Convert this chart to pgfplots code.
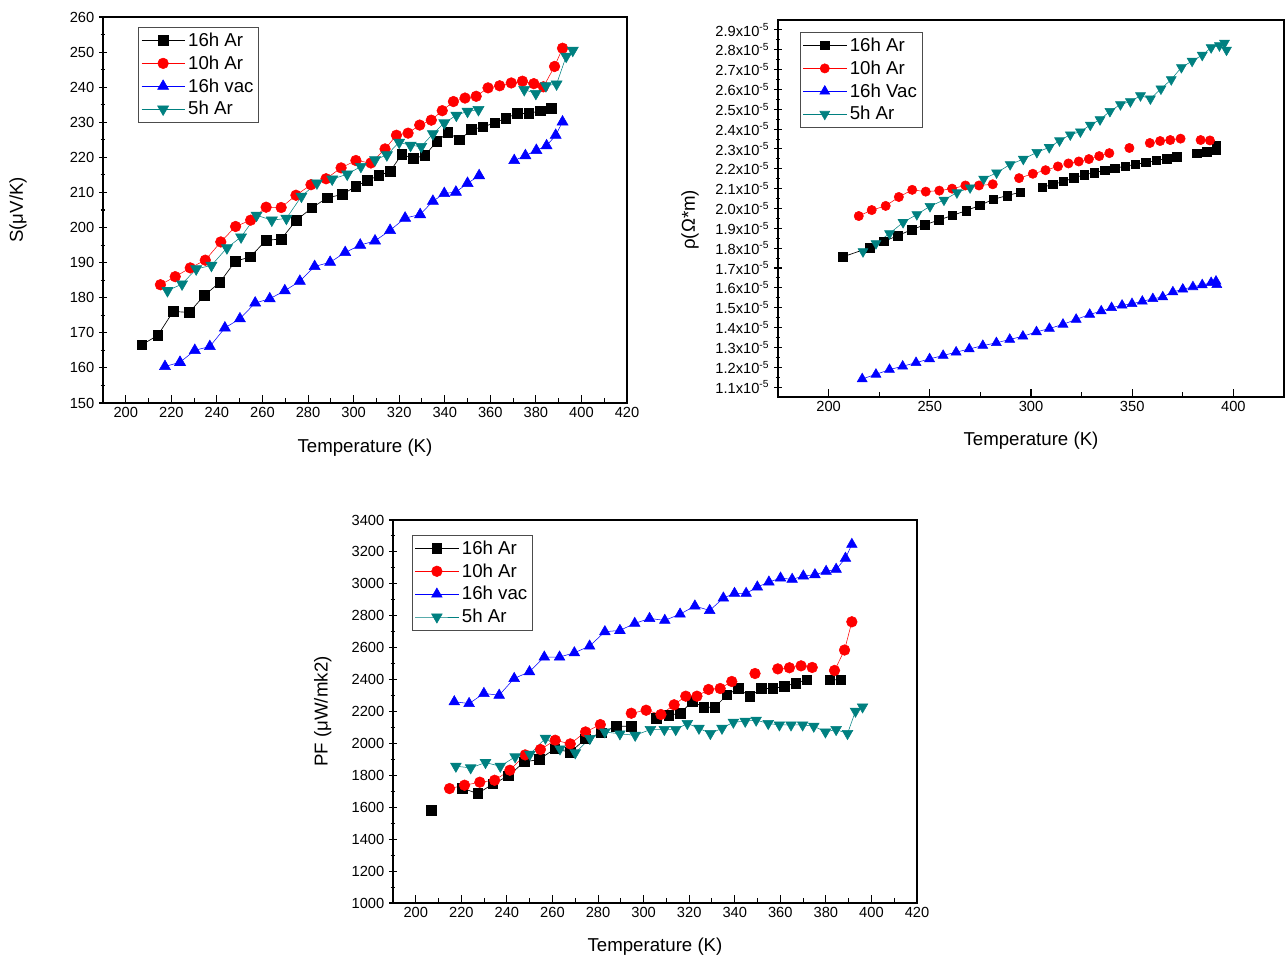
\documentclass[border=0pt]{standalone}
\usepackage{fontspec}
\setmainfont{Liberation Sans}
\usepackage{pgfplots}
\pgfplotsset{compat=1.18}
\definecolor{tealc}{RGB}{0,128,128}

\pgfplotsset{
  myax/.style={
    scale only axis,
    axis line style={line width=0.9pt},
    tick style={line width=0.8pt, black},
    xtick pos=bottom, ytick pos=left,
    xtick align=inside, ytick align=center,
    major tick length=6pt, minor tick length=3.5pt,
    minor x tick num=1, minor y tick num=1,
    tick label style={font=\fontsize{11}{13}\selectfont},
    label style={font=\fontsize{14}{16}\selectfont},
    /pgf/number format/assume math mode=true,
    /pgf/number format/1000 sep={},
    legend style={font=\fontsize{14}{16}\selectfont, draw=black!70, line width=0.6pt, inner sep=2pt, row sep=1.5pt, cells={anchor=west}, legend cell align=left},
    legend image code/.code={\draw[mark repeat=2,mark phase=2,#1] plot coordinates {(0cm,0cm) (0.57cm,0cm) (1.15cm,0cm)};},
    unbounded coords=jump,
  },
  sA/.style={black, line width=0.5pt, mark=square*, mark options={solid, fill=black, draw=black}},
  sB/.style={red, line width=0.4pt, mark=*, mark options={solid, fill=red, draw=red}},
  sC/.style={blue, line width=0.4pt, mark=triangle*, mark options={solid, fill=blue, draw=blue}},
  sD/.style={tealc, line width=0.4pt, mark=triangle*, mark options={solid, fill=tealc, draw=tealc, rotate=180}},
}

\begin{document}
\begin{tikzpicture}
\path[use as bounding box] (0,0) rectangle (964.5pt,720pt);

% ---------------- Panel 1: Seebeck ----------------
\begin{axis}[myax,
  at={(77.25pt,417.75pt)}, anchor=south west,
  width=393pt, height=289.5pt,
  xmin=190, xmax=420, ymin=150, ymax=260,
  xtick={200,220,...,420}, ytick={150,160,...,260},
  xlabel={Temperature (K)}, ylabel={S(μV/K)},
  xlabel style={at={(axis description cs:0.5,-0.117)}, anchor=center},
  ylabel style={at={(axis description cs:-0.162,0.5)}, anchor=center},
  legend style={at={(rel axis cs:0.067,0.974)}, anchor=north west},
]
\addplot[sA, mark size=3.6pt] table {
x y
207.1 166.6
214.1 169.3
220.8 176.1
227.8 175.8
234.4 180.6
241.3 184.4
248.1 190.4
254.6 191.6
261.6 196.4
268.2 196.7
274.9 202.1
281.7 205.6
288.4 208.5
295.0 209.4
300.9 211.7
306.0 213.4
311.1 214.8
316.0 216.0
321.1 220.8
326.3 219.7
331.2 220.5
336.5 224.5
341.4 227.1
346.5 225.0
351.8 227.9
356.8 228.7
361.9 229.8
366.8 231.2
371.9 232.5
376.9 232.5
382.0 233.3
386.9 233.9
};
\addlegendentry{16h Ar}
\addplot[sB, mark size=4pt] table {
x y
215.2 183.7
221.7 186.0
228.3 188.5
234.9 190.7
241.7 195.9
248.2 200.3
254.8 202.1
261.6 205.8
268.2 205.7
274.7 209.2
281.3 212.2
287.9 213.9
294.5 217.0
301.0 219.1
307.6 218.4
313.8 222.4
318.8 226.3
323.9 226.9
329.0 229.2
334.1 230.6
338.9 233.3
343.8 235.9
348.9 236.9
353.8 237.4
359.0 239.8
364.1 240.4
369.2 241.2
374.1 241.7
379.1 241.0
383.3 240.1
388.2 245.9
391.7 251.1
};
\addlegendentry{10h Ar}
\addplot[sC, mark size=4.8pt] table {
x y
217.2 160.4
223.8 161.6
230.3 165.0
236.9 166.1
243.5 171.4
250.1 174.0
256.8 178.5
263.2 179.7
269.8 182.0
276.4 184.7
282.9 188.9
289.7 190.1
296.3 192.9
302.9 195.0
309.4 196.2
316.0 199.2
322.6 202.7
329.2 203.7
334.8 207.5
339.8 209.7
344.9 210.1
350.0 212.6
355.1 214.8
362.0 nan
370.5 219.1
375.4 220.5
380.2 222.0
384.7 223.3
388.7 226.3
391.7 230.1
};
\addlegendentry{16h vac}
\addplot[sD, mark size=4.8pt] table {
x y
218.3 182.0
224.7 183.9
230.9 188.2
237.6 189.2
244.4 194.2
250.6 197.3
257.4 203.5
264.1 202.1
270.5 202.6
277.1 208.9
283.9 212.7
290.6 213.8
297.2 215.2
303.2 217.4
309.4 219.3
314.6 220.7
320.0 224.3
325.0 223.4
329.7 223.1
334.8 226.7
339.8 229.8
345.1 232.0
350.0 233.1
354.8 233.6
365.0 nan
374.9 239.3
380.0 238.2
384.4 240.4
389.1 240.9
393.3 248.8
396.2 250.5
};
\addlegendentry{5h Ar}
\end{axis}

% ---------------- Panel 2: resistivity ----------------
\begin{axis}[myax,
  at={(583.5pt,422.25pt)}, anchor=south west,
  width=379.5pt, height=282.75pt,
  xmin=175, xmax=425, ymin=1.05, ymax=2.95,
  xtick={200,250,300,350,400},
  ytick={1.1,1.2,1.3,1.4,1.5,1.6,1.7,1.8,1.9,2.0,2.1,2.2,2.3,2.4,2.5,2.6,2.7,2.8,2.9},
  yticklabel={\pgfmathprintnumber[fixed,fixed zerofill,precision=1]{\tick}x10\textsuperscript{-5}},
  xlabel={Temperature (K)}, ylabel={ρ(Ω*m)},
  xlabel style={at={(axis description cs:0.5,-0.117)}, anchor=center},
  ylabel style={at={(axis description cs:-0.174,0.47)}, anchor=center},
  legend style={at={(rel axis cs:0.043,0.968)}, anchor=north west},
]
\addplot[sA, mark size=3.2pt] table {
x y
207.0 1.756
220.4 1.803
227.4 1.834
234.1 1.863
241.0 1.893
247.6 1.918
254.5 1.942
261.1 1.965
268.0 1.989
274.7 2.016
281.3 2.046
288.2 2.065
294.7 2.082
300.0 nan
305.7 2.107
310.7 2.121
316.0 2.136
321.1 2.154
326.3 2.170
331.4 2.181
336.4 2.193
341.5 2.203
346.5 2.213
351.6 2.222
356.8 2.232
361.9 2.242
367.0 2.251
372.0 2.261
377.0 nan
381.9 2.279
386.9 2.286
391.6 2.293
391.6 2.316
};
\addlegendentry{16h Ar}
\addplot[sB, mark size=3.5pt] table {
x y
214.9 1.962
221.3 1.992
228.2 2.013
234.7 2.058
241.3 2.094
248.0 2.085
254.7 2.090
261.0 2.100
267.6 2.116
274.3 2.116
281.1 2.122
288.0 nan
294.1 2.153
300.9 2.175
307.2 2.193
313.3 2.212
318.5 2.227
323.6 2.237
328.6 2.249
333.7 2.264
338.7 2.279
343.0 nan
348.6 2.305
353.0 nan
358.7 2.330
363.8 2.340
368.8 2.345
373.9 2.352
378.0 nan
383.8 2.345
388.4 2.343
};
\addlegendentry{10h Ar}
\addplot[sC, mark size=4.3pt] table {
x y
216.6 1.141
223.4 1.164
230.1 1.188
236.6 1.205
243.2 1.223
249.9 1.242
256.6 1.259
263.0 1.276
269.5 1.292
276.2 1.309
282.9 1.323
289.5 1.340
296.0 1.356
302.7 1.378
309.1 1.395
315.8 1.416
322.3 1.441
329.0 1.466
334.7 1.483
339.8 1.500
345.0 1.512
349.9 1.520
355.0 1.532
360.2 1.545
365.1 1.554
370.1 1.579
375.0 1.593
380.0 1.605
384.6 1.615
389.0 1.626
391.4 1.633
391.8 1.616
};
\addlegendentry{16h Vac}
\addplot[sD, mark size=4.3pt] table {
x y
217.0 1.783
223.4 1.824
230.1 1.874
236.8 1.930
243.6 1.970
250.1 2.011
257.0 2.043
263.4 2.080
269.9 2.105
276.6 2.149
283.0 2.180
289.7 2.222
296.2 2.249
302.9 2.283
309.0 2.308
314.1 2.342
319.4 2.372
324.4 2.387
329.3 2.421
334.1 2.448
339.0 2.490
344.2 2.524
349.1 2.539
354.1 2.569
359.0 2.553
364.2 2.603
369.3 2.650
374.3 2.711
379.6 2.743
384.6 2.773
389.0 2.811
393.1 2.821
395.6 2.834
396.6 2.799
};
\addlegendentry{5h Ar}
\end{axis}

% ---------------- Panel 3: power factor ----------------
\begin{axis}[myax,
  at={(294.75pt,42.75pt)}, anchor=south west,
  width=393pt, height=287.25pt,
  xmin=190, xmax=420, ymin=1000, ymax=3400,
  xtick={200,220,...,420}, ytick={1000,1200,...,3400},
  xlabel={Temperature (K)}, ylabel={PF (μW/mk2)},
  xlabel style={at={(axis description cs:0.5,-0.115)}, anchor=center},
  ylabel style={at={(axis description cs:-0.134,0.5)}, anchor=center},
  legend style={at={(rel axis cs:0.036,0.961)}, anchor=north west},
]
\addplot[sA, mark size=3.6pt] table {
x y
206.9 1579
214.0 nan
220.4 1719
227.2 1686
233.9 1746
240.6 1796
247.6 1884
254.1 1899
261.0 1966
267.8 1945
274.5 2028
281.4 2066
288.0 2108
294.7 2108
300.0 nan
305.6 2156
311.1 2177
316.2 2189
321.3 2263
326.4 2227
331.3 2227
336.6 2304
341.5 2344
346.6 2296
351.8 2344
356.8 2344
361.7 2357
366.8 2378
371.7 2399
377.0 nan
381.7 2399
386.6 2399
};
\addlegendentry{16h Ar}
\addplot[sB, mark size=4pt] table {
x y
214.8 1717
221.4 1738
228.1 1757
234.6 1769
241.3 1832
248.0 1928
254.7 1962
261.2 2020
267.8 1997
274.5 2072
281.0 2118
288.0 nan
294.6 2189
301.1 2208
307.6 2181
313.4 2242
318.5 2296
323.4 2296
328.5 2338
333.6 2344
338.7 2388
343.0 nan
348.9 2438
354.0 nan
358.9 2467
364.0 2474
369.1 2486
374.0 2476
379.0 nan
383.8 2457
388.2 2585
391.4 2762
};
\addlegendentry{10h Ar}
\addplot[sC, mark size=4.6pt] table {
x y
216.9 2261
223.4 2250
229.9 2313
236.6 2302
243.2 2407
249.9 2449
256.4 2541
263.1 2541
269.6 2568
276.3 2610
283.0 2700
289.6 2708
296.1 2752
302.6 2783
309.3 2771
316.0 2810
322.5 2861
329.0 2833
335.0 2911
339.9 2940
345.0 2940
349.9 2980
355.0 3011
360.1 3036
365.2 3028
370.1 3049
375.2 3057
380.1 3078
384.5 3091
388.6 3160
391.4 3247
};
\addlegendentry{16h vac}
\addplot[sD, mark size=4.6pt] table {
x y
217.6 1857
224.1 1847
230.6 1880
237.1 1857
243.6 1916
250.1 1932
256.9 2033
263.3 1966
270.0 1941
276.4 2031
283.0 2072
289.6 2060
296.3 2051
303.0 2087
309.1 2087
314.1 2087
319.2 2125
324.3 2095
329.3 2062
334.4 2095
339.4 2133
344.6 2139
349.4 2146
354.7 2125
359.6 2116
364.7 2116
369.8 2116
374.7 2108
379.8 2072
384.5 2087
389.5 2062
393.0 2202
396.1 2229
};
\addlegendentry{5h Ar}
\end{axis}
\end{tikzpicture}
\end{document}
